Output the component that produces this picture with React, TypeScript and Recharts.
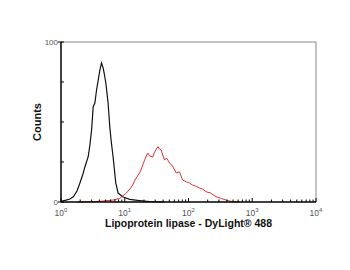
import React from "react";
import { LineChart, Line, XAxis, YAxis, ReferenceLine, Label } from "recharts";

// Fluorescence intensity (log scale) vs counts
const controlX = [1, 1.04, 1.2, 1.38, 1.56, 1.78, 1.98, 2.21, 2.37, 2.67, 2.84, 3.02, 3.2, 3.4, 3.61, 3.83, 4.07, 4.32, 4.58, 4.78, 5.05, 5.48, 5.83, 6.15, 6.57, 7.23, 7.86, 9.4, 12, 17, 24.6, 42];
const controlY = [0.8, 0.6, 1.2, 1.9, 3.3, 6.9, 11.9, 17.5, 21.9, 28.3, 35.6, 45, 59.6, 61.9, 70, 76, 82.5, 86.9, 83.8, 80, 74.4, 61.9, 46.9, 37.5, 28.1, 11.9, 5.6, 3.1, 1.6, 0.9, 0.3, 0];

const stainedX = [1.8, 3, 4.07, 6.5, 8.3, 10.6, 12, 13.3, 14.8, 17.1, 18.4, 20.5, 22.1, 23.1, 24.6, 27.4, 29.4, 33.1, 35.2, 37.4, 39.3, 42.2, 45.3, 50.5, 56.2, 64.3, 72.4, 80.5, 93.3, 103.7, 115, 128.7, 148, 166, 189, 221, 270, 328, 389, 490, 630];
const stainedY = [0, 0.2, 0.4, 1.2, 2.2, 5.6, 8.1, 10.6, 14.4, 18.1, 21.2, 26.2, 29.4, 30.6, 28.8, 28.1, 31.2, 34.6, 33.1, 32.5, 29.4, 26.2, 27.5, 24.4, 22.5, 18.1, 18.8, 13.8, 12.5, 11.9, 10.6, 10, 8.8, 8.1, 6.4, 5.6, 3.3, 2.2, 1.2, 0.2, 0];

const majorXTicks = [1, 10, 100, 1000, 10000];
const yTicks = [0, 25, 50, 75, 100];
const yLabels: Record<number, string> = { 0: "0", 100: "100" };

const controlData = controlX.map((x, i) => ({ x, y: controlY[i] }));
const stainedData = stainedX.map((x, i) => ({ x, y: stainedY[i] }));

const allXTicks: number[] = [];
majorXTicks.forEach((m, i) => {
  allXTicks.push(m);
  if (i < majorXTicks.length - 1) {
    for (let k = 2; k <= 9; k++) allXTicks.push(m * k);
  }
});

const XTick = (props: any) => {
  const { x, y, payload } = props;
  const v = payload.value;
  const isMajor = majorXTicks.includes(v);
  const exp = Math.round(Math.log10(v));
  return (
    <g>
      <line x1={x} x2={x} y1={y} y2={y - (isMajor ? 4 : 2.5)} stroke="#000" strokeWidth={1} />
      {isMajor && (
        <text x={x} y={y + 14} textAnchor="middle" fontSize={8.5} fill="#555" fontFamily="Liberation Sans, Arial, sans-serif">
          10
          <tspan fontSize={6} dy={-4}>{exp}</tspan>
        </text>
      )}
    </g>
  );
};

const YTick = (props: any) => {
  const { x, y, payload } = props;
  const v = payload.value;
  const lab = yLabels[v];
  return (
    <g>
      <line x1={lab ? x - 3 : x} x2={x + 3} y1={y} y2={y} stroke="#000" strokeWidth={1} />
      {lab && (
        <text x={x - 3} y={y + 3} textAnchor="end" fontSize={8} fill="#555" fontFamily="Liberation Sans, Arial, sans-serif">
          {lab}
        </text>
      )}
    </g>
  );
};

export default function App() {
  return (
    <div style={{ fontFamily: "Liberation Sans, Arial, sans-serif" }}>
      <LineChart width={334} height={254} margin={{ top: 34, right: 26, bottom: 18, left: 5 }}>
        <XAxis
          dataKey="x"
          type="number"
          scale="log"
          domain={[1, 10000]}
          ticks={allXTicks}
          interval={0}
          allowDataOverflow
          height={42}
          tickSize={0}
          tickMargin={0}
          tickLine={false}
          tick={<XTick />}
          axisLine={{ stroke: "#000", strokeWidth: 1.5 }}
        >
          <Label value="Lipoprotein lipase - DyLight® 488" position="center" fontSize={10.5} fontWeight="bold" fill="#111" />
        </XAxis>
        <YAxis
          dataKey="y"
          type="number"
          domain={[0, 100]}
          ticks={yTicks}
          interval={0}
          width={48}
          tickSize={0}
          tickMargin={0}
          tickLine={false}
          tick={<YTick />}
          axisLine={{ stroke: "#000", strokeWidth: 1.5 }}
        >
          <Label value="Counts" position="center" angle={-90} fontSize={11} fontWeight="bold" fill="#111" />
        </YAxis>
        <ReferenceLine y={100} stroke="#888" strokeWidth={1} />
        <ReferenceLine x={10000} stroke="#888" strokeWidth={1} />
        <Line data={controlData} dataKey="y" type="linear" stroke="#111" strokeWidth={1.2} dot={false} isAnimationActive={false} />
        <Line data={stainedData} dataKey="y" type="linear" stroke="#e03030" strokeWidth={1} dot={false} isAnimationActive={false} />
      </LineChart>
    </div>
  );
}
